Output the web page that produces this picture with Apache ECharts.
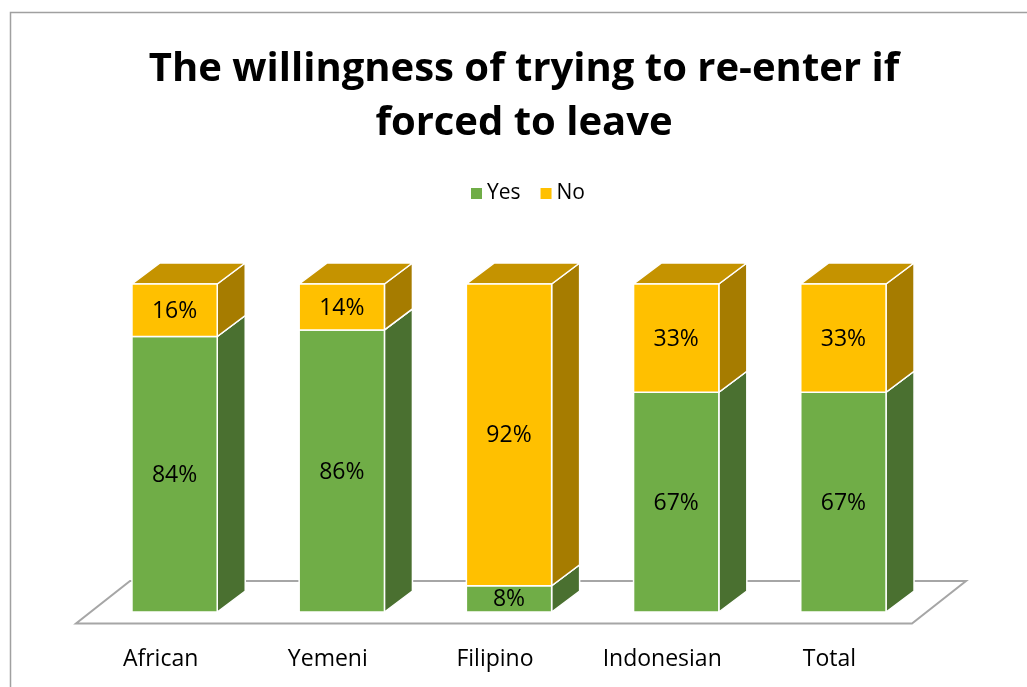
<!DOCTYPE html>
<html>
<head>
<meta charset="utf-8">
<title>The willingness of trying to re-enter if forced to leave</title>
<script src="https://cdn.jsdelivr.net/npm/echarts@6/dist/echarts.min.js"></script>
<style>
  html, body { margin: 0; padding: 0; background: #fff; }
  #chart { width: 1027px; height: 687px; }
</style>
</head>
<body>
<div id="chart"></div>
<script>
// Share of respondents (%) per group
const categories = ['African', 'Yemeni', 'Filipino', 'Indonesian', 'Total'];
const yesValues = [84, 86, 8, 67, 67];
const noValues = [16, 14, 92, 33, 33];

const FONT = '"Open Sans", "Noto Sans", sans-serif';
// receding depth of each column (pixels right / up)
const DEPTH_X = 28;
const DEPTH_Y = 21;

// stacked segments: [category index, start, end, label value]
const yesData = yesValues.map((v, i) => [i, 0, v, v]);
const noData = noValues.map((v, i) => [i, yesValues[i], yesValues[i] + v, v]);

function columnRenderer(frontColor, topColor, sideColor) {
  return function (params, api) {
    const i = api.value(0);
    const pBase = api.coord([i, api.value(1)]);
    const pTop = api.coord([i, api.value(2)]);
    const band = api.size([1, 0])[0];
    const w = band * 0.51;
    const x0 = pBase[0] - w / 2;
    const x1 = pBase[0] + w / 2;
    const yb = pBase[1];
    const yt = pTop[1];
    const edge = { stroke: '#ffffff', lineWidth: 1.5, lineJoin: 'round' };
    return {
      type: 'group',
      children: [
        {
          type: 'polygon',
          shape: { points: [[x1, yb], [x1 + DEPTH_X, yb - DEPTH_Y], [x1 + DEPTH_X, yt - DEPTH_Y], [x1, yt]] },
          style: Object.assign({ fill: sideColor }, edge)
        },
        {
          type: 'polygon',
          shape: { points: [[x0, yt], [x0 + DEPTH_X, yt - DEPTH_Y], [x1 + DEPTH_X, yt - DEPTH_Y], [x1, yt]] },
          style: Object.assign({ fill: topColor }, edge)
        },
        {
          type: 'rect',
          shape: { x: x0, y: yt, width: w, height: yb - yt },
          style: Object.assign({ fill: frontColor }, edge)
        },
        {
          type: 'text',
          x: (x0 + x1) / 2,
          y: (yb + yt) / 2 + 1,
          style: {
            text: api.value(3) + '%',
            align: 'center',
            verticalAlign: 'middle',
            fontFamily: FONT,
            fontSize: 23,
            fill: '#000000'
          }
        }
      ]
    };
  };
}

// floor plane under the columns
function floorRenderer(params) {
  const cs = params.coordSys;
  const bottom = cs.y + cs.height;
  const fx = -15, fy = 11.5;     // front edge offset
  const bx = 39, by = -31;       // back edge offset
  return {
    type: 'polygon',
    shape: {
      points: [
        [cs.x + fx, bottom + fy],
        [cs.x + cs.width + fx, bottom + fy],
        [cs.x + cs.width + bx, bottom + by],
        [cs.x + bx, bottom + by]
      ]
    },
    style: { fill: 'none', stroke: '#a6a6a6', lineWidth: 2 }
  };
}

const chart = echarts.init(document.getElementById('chart'), null, { renderer: 'canvas' });

chart.setOption({
  backgroundColor: '#ffffff',
  animation: false,
  title: {
    text: 'The willingness of trying to re-enter if\nforced to leave',
    left: 519,
    top: 38,
    textAlign: 'center',
    textStyle: {
      fontFamily: FONT,
      fontWeight: 'bold',
      fontSize: 40,
      lineHeight: 54,
      color: '#000000'
    }
  },
  legend: {
    left: 466,
    top: 178,
    itemWidth: 11,
    itemHeight: 11,
    itemGap: 20,
    icon: 'rect',
    textStyle: { fontFamily: FONT, fontSize: 21, color: '#000000' },
    data: [
      { name: 'Yes', itemStyle: { color: '#70AD47' } },
      { name: 'No', itemStyle: { color: '#FFC000' } }
    ]
  },
  graphic: [
    {
      type: 'rect',
      left: 8,
      top: 10,
      shape: { x: 0, y: 0, width: 1040, height: 700 },
      style: { fill: 'none', stroke: '#a0a0a0', lineWidth: 1.5 },
      silent: true,
      z: -1
    }
  ],
  grid: { left: 91, right: 100, top: 284, bottom: 75 },
  xAxis: {
    type: 'category',
    data: categories,
    axisLine: { show: false },
    axisTick: { show: false },
    axisLabel: {
      margin: 36,
      fontFamily: FONT,
      fontSize: 23,
      color: '#000000',
      padding: [0, 28, 0, 0]
    }
  },
  yAxis: {
    type: 'value',
    min: 0,
    max: 100,
    show: false
  },
  series: [
    {
      name: 'floor',
      type: 'custom',
      silent: true,
      renderItem: floorRenderer,
      data: [[0, 0]],
      z: 1
    },
    {
      name: 'Yes',
      type: 'custom',
      itemStyle: { color: '#70AD47' },
      renderItem: columnRenderer('#70AD47', '#5C8F3A', '#4A7030'),
      encode: { x: 0, y: [1, 2] },
      data: yesData,
      z: 2
    },
    {
      name: 'No',
      type: 'custom',
      itemStyle: { color: '#FFC000' },
      renderItem: columnRenderer('#FFC000', '#C59300', '#A67C00'),
      encode: { x: 0, y: [1, 2] },
      data: noData,
      z: 3
    }
  ]
});
</script>
</body>
</html>
